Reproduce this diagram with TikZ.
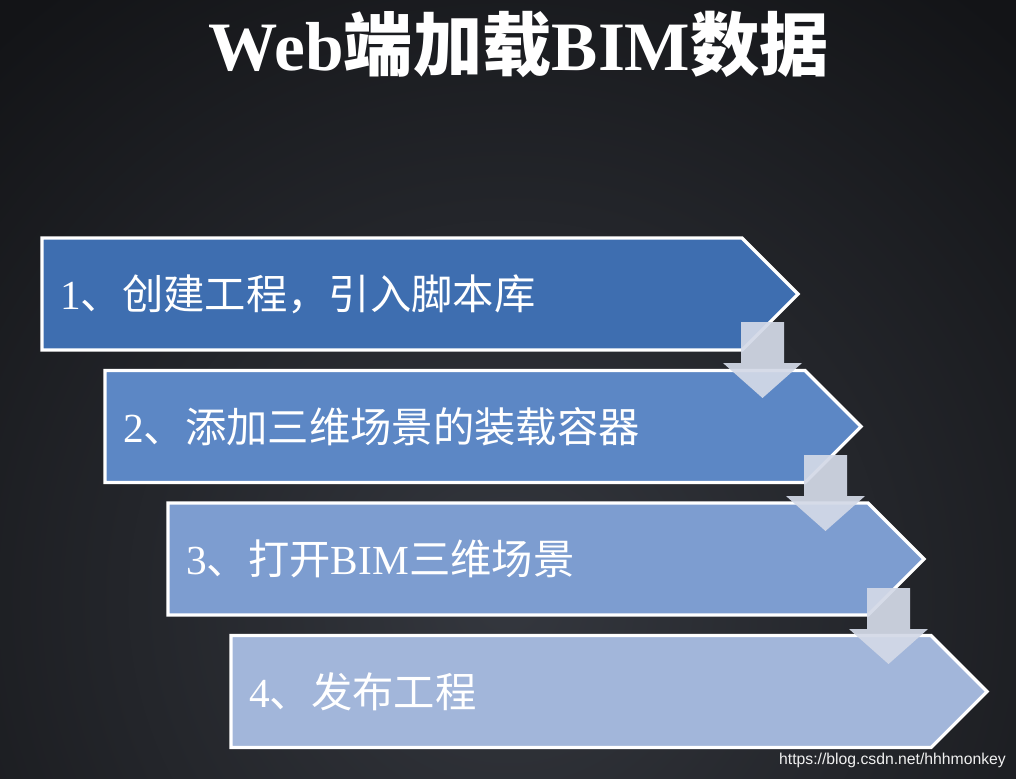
\documentclass[tikz,border=0pt]{standalone}
\usepackage{fontspec}
\setmainfont{Liberation Serif}
\newfontfamily\cjk{Noto Sans CJK SC}
\newfontfamily\wm{Liberation Sans}
\definecolor{bg0}{HTML}{131417}
\definecolor{bg1}{HTML}{34373E}
\definecolor{b1}{HTML}{3E6EB0}
\definecolor{b2}{HTML}{5C87C5}
\definecolor{b3}{HTML}{7D9DD0}
\definecolor{b4}{HTML}{A2B6DA}
\definecolor{arr}{HTML}{D3D9E7}
\tikzset{
  stepshape/.style={draw=white, line width=2.4pt, line join=miter},
  downarrow/.style={fill=arr, fill opacity=0.93, draw=none},
  lbl/.style={text=white, anchor=west, inner sep=0pt, font=\fontsize{31}{36}\selectfont},
  titlestyle/.style={text=white, inner sep=0pt, font=\fontsize{52}{60}\selectfont\bfseries},
  wmstyle/.style={text=white!88!gray, inner sep=0pt, anchor=base east, font=\wm\fontsize{11.8}{14}\selectfont}
}
\begin{document}
\begin{tikzpicture}[x=0.75pt,y=-0.75pt]
\useasboundingbox (0,0) rectangle (1016,778);
\begin{scope}
  \clip (0,0) rectangle (1016,778);
  \fill[bg0] (0,0) rectangle (1016,778);
  \shade[inner color=bg1, outer color=bg0] (508,600) circle (760);
\end{scope}
% title
\node[titlestyle] (title) at (519,44) {Web{\cjk 端加载}BIM{\cjk 数据}};
% step boxes
\foreach \i/\c in {0/b1,1/b2,2/b3,3/b4}{
  \path[stepshape, fill=\c] ({42+63*\i},{238+132.5*\i}) coordinate (s\i)
     -- ++(700,0) -- ++(56,56) coordinate (tip\i) -- ++(-56,56) -- ++(-700,0) -- cycle;
}
% labels
\node[lbl] (t1) at (60,294) {1{\cjk 、创建工程，引入脚本库}};
\node[lbl] (t2) at (123,426.5) {2{\cjk 、添加三维场景的装载容器}};
\node[lbl] (t3) at (186,559) {3{\cjk 、打开}BIM{\cjk 三维场景}};
\node[lbl] (t4) at (249,691.5) {4{\cjk 、发布工程}};
% down arrows
\foreach \i in {0,1,2}{
  \path[downarrow] ({741+63*\i},{322+133*\i}) -- ({784+63*\i},{322+133*\i})
     -- ({784+63*\i},{363+133*\i}) -- ({802+63*\i},{363+133*\i})
     -- ({762.5+63*\i},{398+133*\i}) -- ({723+63*\i},{363+133*\i})
     -- ({741+63*\i},{363+133*\i}) -- cycle;
}
% watermark
\node[wmstyle] (wm) at (1006,764) {https://blog.csdn.net/hhhmonkey};
\end{tikzpicture}
\end{document}
